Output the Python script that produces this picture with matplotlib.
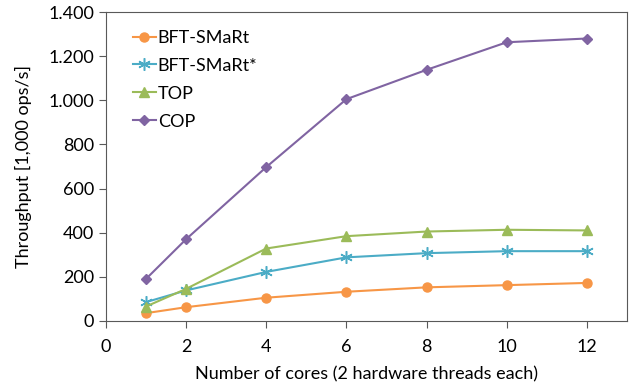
import matplotlib
matplotlib.use("Agg")
import matplotlib.pyplot as plt
from matplotlib.ticker import FuncFormatter

plt.rcParams['font.family'] = ['Lato', 'DejaVu Sans']

cores = [1, 2, 4, 6, 8, 10, 12]
bft = [35, 62, 105, 132, 152, 162, 172]
bft_star = [85, 138, 222, 288, 307, 316, 316]
top = [65, 145, 328, 384, 405, 413, 410]
cop = [190, 370, 697, 1005, 1138, 1263, 1280]

fig = plt.figure(figsize=(6.34, 3.88), dpi=100)
ax = fig.add_axes([0.167, 0.173, 0.822, 0.796])

ax.plot(cores, bft, color='#F79646', marker='o', markersize=6.5, lw=1.5, label='BFT-SMaRt')
ax.plot(cores, bft_star, color='#4BACC6', marker=(6, 2, 0), markersize=9, mew=1.1, lw=1.5, label='BFT-SMaRt*')
ax.plot(cores, top, color='#9BBB59', marker='^', markersize=7.5, lw=1.5, label='TOP')
ax.plot(cores, cop, color='#8064A2', marker='D', markersize=5.5, lw=1.5, label='COP')

ax.set_xlim(0, 13)
ax.set_ylim(0, 1400)
ax.set_xticks([0, 2, 4, 6, 8, 10, 12])
ax.set_yticks(range(0, 1401, 200))
ax.yaxis.set_major_formatter(FuncFormatter(lambda v, p: f"{int(v):,}".replace(',', '.')))
ax.tick_params(labelsize=13, length=5, color='#595959', direction='out')
ax.tick_params(axis='x', pad=8)
for s in ax.spines.values():
    s.set_color('#595959')

ax.set_xlabel('Number of cores (2 hardware threads each)', fontsize=13, labelpad=8)
ax.set_ylabel('Throughput [1,000 ops/s]', fontsize=13, labelpad=12)

ax.legend(loc='upper left', frameon=False, fontsize=13, handlelength=1.3,
          handletextpad=0.1, labelspacing=0.66, bbox_to_anchor=(0.02, 0.995))

fig.savefig('out.png', dpi=100)
